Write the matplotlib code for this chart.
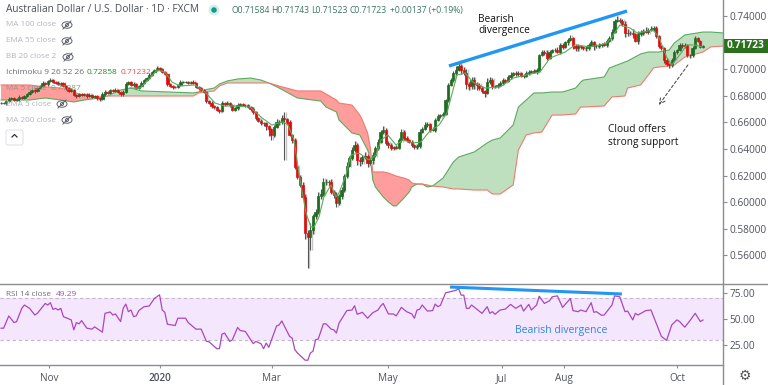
import matplotlib
matplotlib.use('Agg')
import matplotlib.pyplot as plt
from matplotlib.patches import Ellipse, Rectangle, FancyBboxPatch
import numpy as np

plt.rcParams['font.family'] = ['Open Sans', 'DejaVu Sans']

# daily closes
closes = [
    .6745, .6745, .6760, .6775, .6783, .6768, .6775, .6791, .6783, .6798,
    .6813, .6828, .6843, .6836, .6858, .6873, .6896, .6888, .6911, .6918,
    .6903, .6896, .6888, .6896, .6873, .6858, .6836, .6843, .6806, .6798,
    .6813, .6806, .6813, .6798, .6806, .6791, .6798, .6783, .6775, .6813,
    .6828, .6821, .6843, .6836, .6843, .6828, .6813, .6828, .6888, .6903,
    .6881, .6888, .6858, .6873, .6896, .6918, .6933, .6956, .6979, .6994,
    .7009, .7001, .6979, .6964, .6888, .6873, .6866, .6866, .6881, .6903,
    .6903, .6903, .6896, .6903, .6896, .6866, .6858, .6843, .6828, .6760,
    .6745, .6723, .6715, .6693, .6685, .6745, .6738, .6745, .6730, .6693,
    .6708, .6730, .6738, .6730, .6730, .6715, .6700, .6678, .6633, .6610,
    .6595, .6595, .6573, .6550, .6505, .6565, .6603, .6603, .6633, .6625,
    .6603, .6505, .6467, .6264, .6189, .6129, .6039, .5768, .5738, .5790,
    .5896, .5926, .6046, .6061, .6151, .6151, .6151, .6076, .6054, .5993,
    .6046, .6091, .6196, .6272, .6332, .6392, .6430, .6317, .6309, .6339,
    .6347, .6294, .6317, .6354, .6407, .6452, .6527, .6542, .6445, .6430,
    .6407, .6415, .6407, .6467, .6527, .6482, .6467, .6452, .6430, .6415,
    .6422, .6527, .6550, .6580, .6588, .6542, .6542, .6618, .6648, .6655,
    .6663, .6768, .6881, .6918, .6971, .6994, .7024, .6994, .6971, .6888,
    .6873, .6918, .6888, .6881, .6858, .6836, .6821, .6903, .6918, .6873,
    .6873, .6881, .6896, .6918, .6911, .6941, .6956, .6971, .6964, .6971,
    .6948, .6948, .6971, .6979, .6986, .6979, .6994, .7106, .7129, .7121,
    .7084, .7129, .7144, .7144, .7129, .7182, .7167, .7204, .7219, .7234,
    .7174, .7159, .7174, .7167, .7159, .7159, .7182, .7204, .7174, .7174,
    .7182, .7189, .7182, .7212, .7234, .7279, .7362, .7370, .7362, .7340,
    .7272, .7272, .7272, .7264, .7212, .7264, .7272, .7287, .7279, .7294,
    .7302, .7309, .7249, .7174, .7159, .7069, .7039, .7031, .7069, .7129,
    .7144, .7182, .7174, .7182, .7107, .7107, .7159, .7234, .7212, .7167,
    .71723,
]
# wick lengths beyond the candle body, in pips
wick_up = [
    8, 10, 6, 12, 8, 6, 10, 14, 8, 6,
    10, 12, 8, 14, 10, 8, 12, 10, 8, 14,
    10, 6, 12, 8, 6, 10, 8, 12, 6, 8,
    10, 6, 8, 10, 12, 6, 10, 8, 6, 14,
    12, 8, 10, 6, 12, 8, 10, 14, 16, 10,
    8, 12, 10, 8, 14, 10, 8, 12, 10, 8,
    12, 8, 6, 10, 6, 8, 6, 10, 8, 12,
    8, 10, 6, 8, 12, 10, 6, 8, 10, 6,
    8, 12, 6, 10, 8, 14, 8, 12, 10, 6,
    8, 12, 10, 8, 6, 10, 8, 14, 6, 10,
    12, 8, 10, 6, 8, 16, 20, 14, 24, 45,
    10, 12, 8, 14, 16, 18, 20, 20, 20, 50,
    18, 24, 30, 35, 28, 20, 16, 22, 14, 24,
    18, 22, 14, 28, 16, 20, 26, 16, 24, 12,
    30, 14, 16, 22, 14, 26, 18, 30, 12, 14,
    16, 10, 18, 14, 24, 12, 16, 10, 14, 8,
    12, 20, 16, 22, 14, 10, 24, 18, 14, 10,
    16, 10, 18, 14, 12, 26, 22, 18, 24, 30,
    14, 26, 22, 12, 16, 14, 10, 28, 20, 14,
    10, 16, 12, 18, 10, 14, 20, 10, 12, 16,
    10, 14, 12, 16, 10, 12, 14, 10, 18, 14,
    20, 12, 10, 14, 22, 16, 12, 10, 14, 22,
    10, 12, 14, 8, 10, 12, 16, 14, 10, 12,
    14, 10, 16, 12, 18, 22, 16, 26, 14, 12,
    24, 28, 16, 30, 10, 22, 26, 18, 28, 14,
    22, 18, 12, 8, 10, 6, 16, 10, 12, 14,
    10, 16, 12, 14, 8, 10, 12, 14, 10, 6,
    8,
]
wick_dn = [
    10, 6, 12, 8, 10, 6, 8, 12, 6, 10,
    8, 10, 6, 12, 8, 10, 6, 8, 12, 6,
    8, 10, 6, 12, 8, 14, 10, 6, 8, 12,
    6, 10, 8, 12, 6, 10, 8, 14, 16, 10,
    12, 8, 10, 6, 8, 10, 12, 14, 8, 10,
    6, 12, 8, 10, 6, 8, 10, 8, 6, 10,
    8, 12, 10, 6, 14, 10, 12, 8, 6, 10,
    8, 6, 10, 8, 10, 6, 12, 8, 10, 14,
    10, 12, 16, 8, 14, 6, 12, 8, 16, 10,
    8, 12, 6, 10, 14, 8, 12, 16, 18, 10,
    14, 20, 28, 50, 40, 16, 10, 20, 14, 308,
    14, 10, 20, 12, 18, 16, 14, 45, 235, 98,
    30, 22, 16, 20, 14, 24, 30, 18, 20, 30,
    12, 20, 14, 18, 10, 16, 14, 40, 36, 20,
    16, 30, 14, 28, 12, 18, 10, 16, 14, 24,
    16, 12, 10, 8, 14, 12, 16, 10, 18, 14,
    12, 16, 10, 8, 12, 14, 10, 16, 8, 12,
    10, 8, 14, 6, 12, 16, 10, 28, 16, 36,
    30, 20, 34, 40, 18, 14, 30, 10, 16, 20,
    14, 18, 10, 12, 16, 8, 14, 10, 12, 16,
    10, 12, 8, 14, 10, 8, 12, 14, 10, 16,
    12, 10, 8, 14, 10, 12, 16, 8, 20, 10,
    26, 22, 20, 14, 12, 24, 18, 10, 28, 16,
    12, 16, 10, 14, 8, 12, 10, 8, 14, 18,
    32, 24, 16, 26, 10, 20, 14, 18, 8, 16,
    10, 12, 16, 14, 18, 24, 14, 22, 18, 12,
    14, 10, 16, 12, 18, 24, 12, 8, 10, 6,
    8,
]

# ichimoku cloud edges
cloud_bars = [
    0, 11, 17, 23, 28, 32, 38, 41, 46, 50, 54, 65, 74, 76, 78, 82, 84, 87, 91, 96,
    100, 103, 107, 114, 123, 125, 129, 130, 135, 138, 139, 141, 142, 143, 144, 147, 149, 151, 152, 155,
    157, 158, 160, 162, 164, 166, 170, 174, 176, 182, 187, 189, 192, 197, 199, 202, 205, 208, 212, 216,
    221, 223, 224, 232, 234, 235, 240, 241, 246, 249, 251, 253, 257, 259, 263, 270, 273, 278,
]
span_a = [
    .6768, .6768, .6783, .6768, .6753, .6768, .6783, .6798, .6843, .6858,
    .6836, .6828, .6821, .6828, .6843, .6858, .6888, .6911, .6926, .6933,
    .6918, .6896, .6858, .6783, .6760, .6715, .6678, .6618, .6520, .6505,
    .6467, .6392, .6339, .6166, .6114, .6039, .6001, .5971, .5971, .6031,
    .6076, .6114, .6136, .6136, .6114, .6121, .6181, .6302, .6339, .6377,
    .6445, .6467, .6482, .6580, .6715, .6768, .6821, .6821, .6828, .6828,
    .6858, .6903, .6918, .6941, .7009, .7016, .7054, .7061, .7114, .7129,
    .7129, .7129, .7144, .7197, .7257, .7279, .7279, .7272,
]
span_b = [
    .6881, .6881, .6866, .6858, .6828, .6798, .6791, .6798, .6798, .6798,
    .6798, .6798, .6798, .6821, .6828, .6836, .6873, .6896, .6896, .6896,
    .6896, .6896, .6873, .6836, .6836, .6813, .6768, .6745, .6730, .6655,
    .6618, .6520, .6415, .6227, .6227, .6227, .6219, .6204, .6196, .6181,
    .6166, .6144, .6136, .6136, .6129, .6121, .6114, .6099, .6099, .6091,
    .6091, .6061, .6061, .6129, .6392, .6505, .6520, .6527, .6655, .6655,
    .6663, .6715, .6715, .6723, .6768, .6791, .6798, .6858, .6881, .6956,
    .7009, .7016, .7024, .7031, .7091, .7129, .7167, .7174,
]

# thin green line that trails the price
line_bars = [
    49.6, 53.5, 57.3, 60, 63, 65.8, 68.8, 74.6, 78.5, 82.3, 86, 90, 95.8, 100.4, 104.2, 108.5, 110.4, 112.7,
    114.6, 116.2, 117.3, 119.2, 120.4, 122.3, 124.2, 126.9, 128.8, 130, 132.7, 134.6, 137.7, 141.5, 144.2,
    146.2, 148.8, 151.9, 154.6, 158.5, 161.5, 164.6, 168.5, 171.5, 175.4, 178.5, 181.5, 186.2, 192, 197,
    207.3, 211.2, 217, 220.8, 226.5, 230.4, 233, 235, 238, 242, 244.6, 250.8, 253, 256, 258, 261, 263.8, 267, 269.6,
]
line_vals = [
    .6858, .6858, .6933, .6994, .6979, .6903, .6873, .6881, .6828, .6745, .6723, .6723, .6715, .6633, .6580, .6603, .6580, .6467,
    .6219, .6039, .5918, .5813, .5813, .5888, .6039, .6129, .6039, .6069, .6204, .6354, .6369, .6317, .6354,
    .6467, .6505, .6430, .6467, .6445, .6452, .6527, .6580, .6670, .6956, .6971, .6903, .6858, .6866, .6933,
    .6979, .7084, .7129, .7182, .7167, .7182, .7197, .7242, .7332, .7309, .7272, .7294, .7242, .7091, .7031, .7106, .7182, .7182, .7167,
]

# RSI vertices
rsi_bars = [
    0, 1, 3, 5, 6, 8, 9, 11, 13, 14, 17, 18, 19, 20, 21, 22, 23, 24, 27, 28, 29, 30, 31, 33, 35, 36, 39, 40, 42, 43,
    44, 46, 47, 48, 49, 50, 51, 52, 53, 55, 57, 59, 61, 62, 63, 64, 67, 68, 71, 72, 75, 77, 79, 80, 83, 84, 85, 86, 88, 89,
    91, 92, 94, 97, 98, 100, 101, 102, 103, 106, 107, 108, 111, 112, 113, 114, 117, 118, 119, 120, 121, 122, 124, 125, 127, 128, 129, 130, 133, 135,
    136, 137, 139, 141, 143, 145, 146, 147, 149, 151, 152, 154, 156, 158, 159, 160, 161, 162, 164, 166, 167, 168, 169, 171, 175, 176, 177, 178, 179, 180,
    181, 185, 187, 188, 189, 190, 192, 194, 196, 198, 200, 201, 203, 204, 206, 207, 209, 211, 212, 214, 216, 219, 220, 222, 223, 225, 227, 228, 229, 231,
    232, 235, 236, 238, 240, 241, 243, 244, 245, 248, 250, 254, 256, 258, 260, 261, 263, 265, 267, 269, 270,
]
rsi_vals = [
    41.4, 41.4, 53.2, 46.8, 47.8, 60.5, 63.7, 60.5, 54.1, 55.7, 65.2, 63.7, 65.9, 59.5, 60.5, 58.9, 60.5, 52.5, 49.4, 39.8, 46.8, 45.6, 48.7, 41.4, 40.5, 42.7, 37.6, 55.7, 57, 54.1,
    55.1, 47.8, 60.5, 64.6, 57.3, 58.9, 52.5, 53.2, 58.3, 62.1, 62.7, 70, 73.5, 58.9, 56.7, 45.2, 44, 51, 51, 46.8, 40.5, 40.5, 28.7, 28.4, 21.7, 21.7, 35.7, 36.7, 28.7, 30.3,
    42.1, 39.2, 38.2, 26.5, 28.7, 26.5, 21.7, 27.1, 23, 43.6, 44.6, 48.4, 33.5, 31.9, 20.8, 17.6, 10.6, 10.6, 17.6, 19.2, 30.3, 30.9, 45.6, 45.6, 40.5, 39.8, 36.7, 46.2, 58.3, 58.9,
    63, 54.8, 56.7, 51, 56.3, 58.9, 62.7, 65.2, 55.1, 55.1, 53.2, 61.4, 57.3, 55.1, 51, 58.9, 59.5, 63.7, 57.9, 58.3, 64.6, 62.1, 63.3, 75.4, 77.9, 79.5, 73.2, 73.2, 60.5, 60.5,
    63.7, 55.7, 62.1, 55.7, 57.3, 54.8, 58.9, 59.8, 64.3, 60.5, 63.7, 57.9, 64.3, 58.9, 63.7, 72.2, 65.2, 67.8, 71.6, 72.5, 61.4, 70, 58.3, 57.3, 58.9, 57.3, 65.9, 56.7, 57.3, 53.8,
    54.1, 63.7, 72.5, 71.6, 57.3, 57.9, 49.4, 55.7, 54.1, 58.3, 58.9, 33.5, 29.7, 44.6, 49.4, 47.8, 42.4, 48.7, 55.7, 47.8, 49.29,
]

month_bars = [18.5, 61.2, 104.2, 148.8, 192.7, 216.5, 260]
month_labels = ['Nov', '2020', 'Mar', 'May', 'Jul', 'Aug', 'Oct']
price_ticks = [.56, .58, .60, .62, .64, .66, .68, .70, .74]  # .72 sits under the price tag
rsi_ticks = [25, 50, 75]

W, H = 768, 385
axis_grey = '#8a8d96'
label_grey = '#50535e'

fig = plt.figure(figsize=(W / 100, H / 100), dpi=100)
ax = fig.add_axes([0, (H - 283.5) / H, 723 / W, 283.5 / H])
ax_rsi = fig.add_axes([0, (H - 365) / H, 723 / W, 81.5 / H])

# ---- price pane ----
c = np.array(closes)
o = np.r_[c[0], c[:-1]]
hi = np.maximum(o, c) + np.array(wick_up) * 1e-4
lo = np.minimum(o, c) - np.array(wick_dn) * 1e-4
x = np.arange(len(c))

cx = np.array(cloud_bars, dtype=float)
a = np.array(span_a)
b = np.array(span_b)
ax.fill_between(cx, a, b, where=a >= b, interpolate=True, color='#bfe0bf', lw=0, zorder=1)
ax.fill_between(cx, a, b, where=a <= b, interpolate=True, color='#ff9c9c', lw=0, zorder=1)
ax.plot(cx, a, color='#5cab5f', lw=0.8, zorder=2)
ax.plot(cx, b, color='#ee7b6e', lw=0.8, zorder=2)

up = c >= o
ax.vlines(x + 0.45, lo, hi, color='#c4c4c4', lw=1.0, zorder=3)
ax.vlines(x, lo, hi, color='#555555', lw=0.8, zorder=4)
ax.bar(x[up], (c - o)[up], bottom=o[up], width=0.85, color='#1f6b1f', ec='#1f6b1f', lw=0.5, zorder=5)
ax.bar(x[~up], (o - c)[~up], bottom=c[~up], width=0.85, color='#e50b0b', ec='#e50b0b', lw=0.5, zorder=5)
ax.plot(line_bars, line_vals, color='#5cab5f', lw=0.8, zorder=6)

ax.plot([172.3, 240.8], [.7024, .7437], color='#2196f3', lw=2.4, zorder=7, solid_capstyle='butt')
ax.annotate('', xy=(253, .6730), xytext=(264.2, .7031),
            arrowprops=dict(arrowstyle='->', ls=(0, (2.5, 2)), color='#555555', lw=0.8, shrinkA=0, shrinkB=0),
            zorder=7)

ax.set_xlim(-0.385, 277.7)
ax.set_ylim(.752 - 283.5 * .000752, .752)
ax.set_yticks(price_ticks)
ax.set_yticklabels(['%.5f' % t for t in price_ticks])
ax.set_xticks([])

# ---- RSI pane ----
ax_rsi.axhspan(30, 70, color='#f3e6fd', lw=0)
ax_rsi.axhline(70, color='#c4b6cc', lw=0.8, ls=(0, (3, 2.5)))
ax_rsi.axhline(30, color='#c4b6cc', lw=0.8, ls=(0, (3, 2.5)))
ax_rsi.plot(rsi_bars, rsi_vals, color='#ab47bc', lw=0.9)
ax_rsi.plot([172.7, 238.8], [81, 74.3], color='#2196f3', lw=2.2, solid_capstyle='butt', clip_on=False)
ax_rsi.set_xlim(-0.385, 277.7)
ax_rsi.set_ylim(6, 84.4)
ax_rsi.set_yticks(rsi_ticks)
ax_rsi.set_yticklabels(['%.2f' % t for t in rsi_ticks])
ax_rsi.set_xticks(month_bars)
ax_rsi.set_xticklabels(month_labels)
ax_rsi.get_xticklabels()[1].set_fontweight('semibold')

for a_ in (ax, ax_rsi):
    a_.yaxis.tick_right()
    a_.tick_params(axis='y', length=3, width=0.8, color=axis_grey, labelcolor=label_grey, labelsize=7.3, pad=1.5)
    a_.tick_params(axis='x', length=2.5, width=0.8, color=axis_grey, labelcolor=label_grey, labelsize=7.2, pad=3)
    for s in a_.spines.values():
        s.set_visible(False)
    a_.patch.set_alpha(0)

# ---- overlay in pixel coordinates: frame, legend, notes ----
ov = fig.add_axes([0, 0, 1, 1], zorder=10)
ov.set_xlim(0, W)
ov.set_ylim(H, 0)
ov.axis('off')
ov.patch.set_alpha(0)

ov.plot([723, 723], [0, H], color=axis_grey, lw=1)
ov.plot([0, W], [283.5, 283.5], color=axis_grey, lw=1)
ov.plot([0, 723], [365, 365], color=axis_grey, lw=1)

ov.add_patch(Rectangle((723, 39), 45, 14, color='#2a701d', lw=0))
ov.text(745.5, 46, '0.71723', color='white', fontsize=7.3, fontweight='bold', ha='center', va='center')

ov.text(6, 10, 'Australian Dollar / U.S. Dollar · 1D · FXCM', color='#4a4d58', fontsize=7.3, va='center')
ov.add_patch(Ellipse((214, 10), 11, 11, color='#d5eeec', lw=0))
ov.add_patch(Ellipse((214, 10), 5.5, 5.5, color='#119a8c', lw=0))

# O/H/L/C readout
value_col = '#3d7565'
ohlc = [(231, 'O0.71584'), (271, 'H0.71743'), (311, 'L0.71523'), (350, 'C0.71723'), (390, '+0.00137 (+0.19%)')]
for px, t in ohlc:
    ov.text(px, 10.5, t, color=value_col, fontsize=6.2, va='center')

green = '#2a8a2a'
hidden = '#b2b5be'
rows = [(25, 'MA 100 close', 67), (41, 'EMA 55 close', 67), (57, 'BB 20 close 2', 68),
        (104, 'EMA 5 close', 62), (120, 'MA 200 close', 67)]
for py, t, eye in rows:
    ov.text(6, py, t, color=hidden, fontsize=5.9, va='center')
    ov.add_patch(Ellipse((eye, py), 10, 6.5, fill=False, ec='#5d606b', lw=0.7))
    ov.add_patch(Ellipse((eye, py), 3, 3, fill=False, ec='#5d606b', lw=0.7))
    ov.plot([eye - 4, eye + 4], [py + 4, py - 4], color='#5d606b', lw=0.7)
ov.text(6, 72.5, 'Ichimoku 9 26 52 26', color='#6a6d78', fontsize=6, va='center')
ov.text(87, 72.5, '0.72858', color=green, fontsize=6, va='center')
ov.text(121, 72.5, '0.71232', color='#f44848', fontsize=6, va='center')
ov.text(6, 88.5, 'MA 5 close', color='#9a8f95', fontsize=5.9, va='center')
ov.text(51, 88.5, '0.71887', color='#6faa6f', fontsize=6, va='center')

ov.add_patch(FancyBboxPatch((6, 130), 17, 15, boxstyle='round,pad=0,rounding_size=2',
                            fc='white', ec='#e0e3eb', lw=0.8))
ov.plot([12, 14.5, 17], [137, 134.5, 137], color='#333333', lw=0.9)

ov.text(478, 19, 'Bearish', color='#111111', fontsize=7.3, va='center')
ov.text(478, 31, 'divergence', color='#111111', fontsize=7.3, va='center')
ov.text(608, 130, 'Cloud offers', color='#111111', fontsize=7.3, va='center')
ov.text(608, 142, 'strong support', color='#111111', fontsize=7.3, va='center')
ov.text(515, 330.5, 'Bearish divergence', color='#2e86e8', fontsize=7.5, va='center')

ov.text(745, 375.5, '\u2699', color='#555555', fontsize=10, ha='center', va='center', family='DejaVu Sans')
ov.text(6, 294, 'RSI 14 close', color='#6a6d78', fontsize=5.9, va='center')
ov.text(56, 294, '49.29', color='#ab47bc', fontsize=6, va='center')

fig.savefig('out.png', dpi=100)
